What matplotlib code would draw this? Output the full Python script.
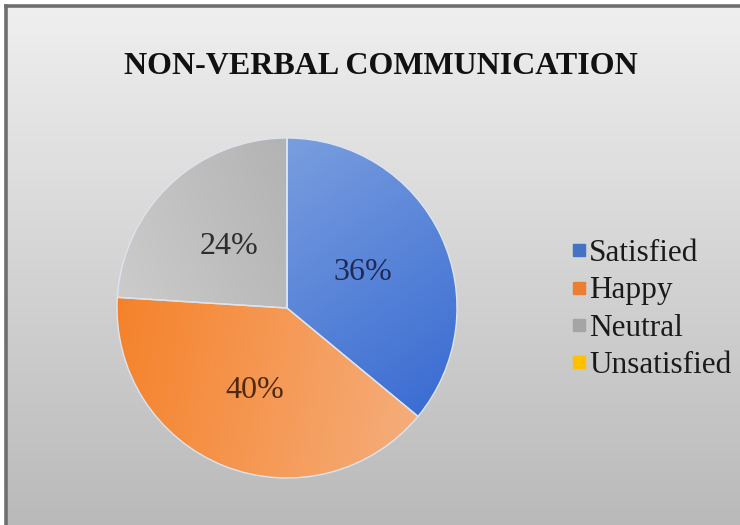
import numpy as np
import matplotlib
matplotlib.use("Agg")
import matplotlib.pyplot as plt
from matplotlib.colors import to_rgb
from matplotlib.lines import Line2D

# Survey responses for non-verbal communication
categories = ["Satisfied", "Happy", "Neutral", "Unsatisfied"]
shares = [36, 40, 24, 0]
title = "NON-VERBAL COMMUNICATION"

base_colors = ["#4472c4", "#ed7d31", "#a5a5a5", "#ffc000"]
# light/dark ends of each slice's gradient, and gradient direction (degrees)
grad_light = ["#80a3e0", "#f5b080", "#cdcdcd", "#ffd54a"]
grad_dark = ["#3a6cd2", "#f5822a", "#a6a6a6", "#f0b000"]
grad_angle = [-55, 170, 20, 0]
label_colors = ["#1e2b57", "#4d2a0e", "#2e2e2e", "#333333"]
# radial distance of each percentage label
label_dist = [0.49, 0.52, 0.50, 0.5]

W, H, DPI = 740, 525, 100
fig = plt.figure(figsize=(W / DPI, H / DPI), dpi=DPI, facecolor="white")
serif = ["Liberation Serif", "DejaVu Serif"]

# chart area background: vertical gray gradient with a frame on left/top
bg = fig.add_axes([6 / W, -0.01, 1.02 - 6 / W, 1.01 - 6 / H])
grad = np.linspace(0, 1, 256)[:, None]
top, bot = np.array(to_rgb("#efefef")), np.array(to_rgb("#b9b9b9"))
img = top[None, None, :] * (1 - grad[..., None]) + bot[None, None, :] * grad[..., None]
bg.imshow(np.repeat(img, 2, axis=1), aspect="auto", extent=[0, 1, 0, 1], origin="upper")
bg.set_xlim(0, 1)
bg.set_ylim(0, 1)
bg.axis("off")
bg.plot([0, 0], [0, 1], color="#6f6f6f", lw=2.6, solid_capstyle="projecting", transform=bg.transAxes, clip_on=False)
bg.plot([0, 1], [1, 1], color="#6f6f6f", lw=2.6, solid_capstyle="projecting", transform=bg.transAxes, clip_on=False)

fig.text(381 / W, 1 - 67 / H, title, ha="center", va="center",
         fontsize=23, fontweight="bold", family=serif, color="#111111")

# pie
cx, cy, r = 287, 308, 170
ax = fig.add_axes([(cx - r) / W, (H - cy - r) / H, 2 * r / W, 2 * r / H])
ax.set_aspect("equal")
ax.axis("off")


def fmt(p):
    return f"{p:.0f}%" if p > 0.5 else ""


wedges, texts, autotexts = ax.pie(
    shares, colors=base_colors, startangle=90, counterclock=False,
    autopct=fmt, pctdistance=0.5, radius=1.0,
    wedgeprops=dict(edgecolor="#dde4ee", linewidth=1.0),
    textprops=dict(fontsize=23, family=serif),
)

yy, xx = np.mgrid[1:-1:300j, -1:1:300j]
for w, lc, dc, ang in zip(wedges, grad_light, grad_dark, grad_angle):
    a = np.deg2rad(ang)
    t = (xx * np.cos(a) + yy * np.sin(a) + 1) / 2
    t = np.clip(t, 0, 1)[..., None]
    l, d = np.array(to_rgb(lc)), np.array(to_rgb(dc))
    g = l * (1 - t) + d * t
    im = ax.imshow(g, extent=[-1, 1, -1, 1], origin="upper", zorder=1.5, interpolation="bilinear")
    im.set_clip_path(w)
    w.set_facecolor("none")
    w.set_zorder(1.6)
ax.set_xlim(-1, 1)
ax.set_ylim(-1, 1)

for w, t, c, dist in zip(wedges, autotexts, label_colors, label_dist):
    mid = np.deg2rad((w.theta1 + w.theta2) / 2)
    t.set_position((dist * np.cos(mid), dist * np.sin(mid)))
    t.set_color(c)
    t.set_zorder(3)

handles = [Line2D([], [], marker="s", ls="none", markersize=8.5, markerfacecolor=c,
                  markeredgecolor=c) for c in base_colors]
fig.legend(handles, categories, loc="upper left", bbox_to_anchor=(572 / W, 1 - 239 / H),
           frameon=False, prop=dict(family=serif, size=22.5), labelcolor="#1a1a1a",
           handlelength=0.45, handletextpad=0.1, labelspacing=0.27, borderpad=0, borderaxespad=0)

fig.savefig("out.png", dpi=DPI, facecolor="white")
